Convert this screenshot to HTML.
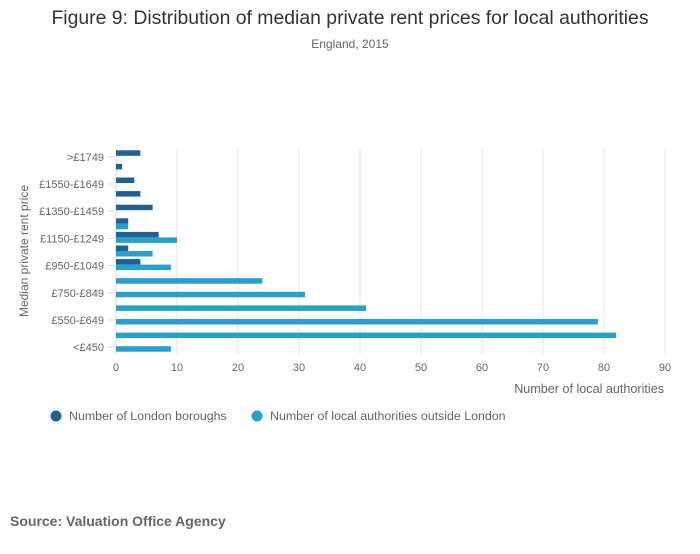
<!DOCTYPE html>
<html><head><meta charset="utf-8"><style>
body{margin:0;background:#fff;font-family:"Liberation Sans",sans-serif;}
</style></head><body>
<svg id="chart" width="700" height="549" xmlns="http://www.w3.org/2000/svg" font-family="Liberation Sans, sans-serif">
<text x="350" y="24" text-anchor="middle" font-size="19.4" fill="#333">Figure 9: Distribution of median private rent prices for local authorities</text>
<text x="350" y="48" text-anchor="middle" font-size="12" fill="#666">England, 2015</text>
<g id="grid"></g><g id="bars"></g><g id="yaxis"></g><g id="xaxis"></g>
<text x="664" y="393" text-anchor="end" font-size="12.6" fill="#666">Number of local authorities</text>
<text transform="translate(28,251) rotate(-90)" text-anchor="middle" font-size="12" fill="#666">Median private rent price</text>
<g>
<g><circle cx="56" cy="416" r="5.5" fill="#206095"/><text x="69" y="420" font-size="12.4" fill="#666">Number of London boroughs</text></g>
<g><circle cx="257" cy="416" r="5.5" fill="#27a0cc"/><text x="270" y="420" font-size="12.4" fill="#666">Number of local authorities outside London</text></g>
</g>
<text x="10" y="526" font-size="14" font-weight="bold" fill="#666">Source: Valuation Office Agency</text>
</svg>
<script>
const categories=[">£1749","£1650-£1749","£1550-£1649","£1450-£1549","£1350-£1459","£1250-£1349","£1150-£1249","£1050-£1149","£950-£1049","£850-£949","£750-£849","£650-£749","£550-£649","£450-£549","<£450"];
const londonValues=[4,1,3,4,6,2,7,2,4,0,0,0,0,0,0];
const outsideValues=[0,0,0,0,0,2,10,6,9,24,31,41,79,82,9];
const xTicks=[0,10,20,30,40,50,60,70,80,90];
const NS="http://www.w3.org/2000/svg";
const x0=116,x1=665,yTop=149,yBot=353;
const band=(yBot-yTop)/categories.length;
function xs(v){return x0+(v-0)/(90-0)*(x1-x0);}
function yc(i){return yTop+band*(i+0.5);}
function mk(tag,attrs,parent){const e=document.createElementNS(NS,tag);for(const k in attrs)e.setAttribute(k,attrs[k]);parent.appendChild(e);return e;}
const grid=document.getElementById('grid'),bars=document.getElementById('bars'),ya=document.getElementById('yaxis'),xa=document.getElementById('xaxis');
xTicks.forEach(t=>{
 const l=mk('line',{x1:xs(t),x2:xs(t),y1:yTop-1,y2:yBot+1,stroke:t===0?'#ccd6e6':'#e4e4e4','stroke-width':1},grid);
 
 
 const tx=mk('text',{x:xs(t),y:371,'text-anchor':'middle','font-size':11,fill:'#666'},xa);
 tx.textContent=t;
 
 
});
categories.forEach((c,i)=>{
 const y=yc(i);
 if(i%2===0){
  const tk=mk('line',{x1:x0-8,x2:x0-2,y1:y+1,y2:y+1,stroke:'#ccd6e6'},ya);
  
  
  const t=mk('text',{x:x0-12,y:y+5,'text-anchor':'end','font-size':11,fill:'#666'},ya);
  t.textContent=c;
  
  
 }
 const h=5.5;
 if(londonValues[i]>0){
  const r=mk('rect',{x:x0,y:y-h,width:xs(londonValues[i])-x0,height:h,fill:'#206095'},bars);
  
  
 }
 if(outsideValues[i]>0){
  const r=mk('rect',{x:x0,y:y,width:xs(outsideValues[i])-x0,height:h,fill:'#27a0cc'},bars);
  
  
 }
});
</script>
</body></html>
